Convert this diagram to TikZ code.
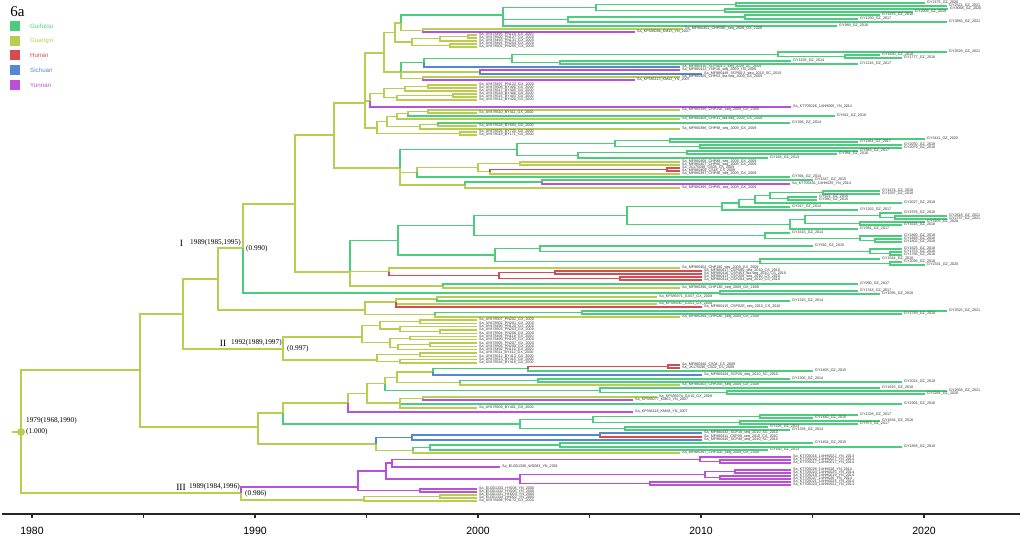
\documentclass[tikz,border=0pt]{standalone}
\usepackage{fontspec}
\setmainfont{Liberation Serif}
\newfontfamily\arialf{Liberation Sans}
\definecolor{GZ}{RGB}{75,205,125}
\definecolor{GX}{RGB}{185,205,80}
\definecolor{HN}{RGB}{215,75,80}
\definecolor{SC}{RGB}{85,135,215}
\definecolor{YN}{RGB}{185,80,215}
\tikzset{
  lab/.style={anchor=west, inner sep=0pt, xshift=2pt, text=black!80, font=\arialf\fontsize{3.7}{4}\selectfont},
  nl/.style={anchor=west, inner sep=0pt, font=\fontsize{7.3}{8}\selectfont},
  rn/.style={inner sep=0pt, font=\fontsize{9.5}{10}\selectfont},
  leg/.style={anchor=west, inner sep=0pt, font=\arialf\fontsize{6.2}{7}\selectfont},
  axl/.style={inner sep=0pt, font=\arialf\fontsize{10.5}{12}\selectfont},
  axisline/.style={line width=1.3pt, black!85},
}
\newcounter{lc}
\newcommand\bb[5]{\draw[#1,line width=1.8pt] (#2,#3) |- (#4,#5);}
\newcommand\br[5]{\draw[#1,line width=1.3pt] (#2,#3) |- (#4,#5);}
\newcommand\lf[6]{\draw[#1,line width=1.3pt] (#2,#3) |- (#4,#5);\stepcounter{lc}\node[lab] (L\arabic{lc}) at (#4,#5) {\detokenize{#6}};}
\begin{document}
\begin{tikzpicture}[x=1pt,y=-1pt]
\useasboundingbox (0,0) rectangle (1024,536);
% ---------- backbone ----------
\draw[GX,line width=1.8pt] (12,432) -- (21,432);
\bb{GX}{21}{432}{140}{370}
\bb{GX}{21}{432}{241}{493}
\bb{GX}{140}{370}{183}{314}
\bb{GX}{140}{370}{258}{427}
\bb{GX}{183}{314}{218}{279}
\bb{GX}{183}{314}{283}{349}
\bb{GX}{218}{279}{243}{248}
\bb{GX}{218}{279}{365}{310}
\bb{GX}{243}{248}{295}{204}
\br{GZ}{243}{248}{720}{293}
% ---------- upper clade ----------
\br{GX}{295}{204}{334}{135}
\br{GX}{295}{204}{350}{272}
\br{GX}{334}{135}{365}{103}
\br{GX}{334}{135}{400}{168}
\br{GX}{365}{103}{384}{53}
\br{GX}{365}{103}{370}{101}
\br{GX}{365}{103}{377}{128}
\br{GX}{384}{53}{395}{32.5}
\br{GX}{384}{53}{401}{72}
\br{GX}{395}{32.5}{401}{23}
\br{GX}{395}{32.5}{412}{42}
\br{GZ}{401}{23}{503}{15}
\br{GX}{401}{23}{423}{30.5}
\br{GZ}{503}{15}{596}{7.5}
\br{GZ}{503}{15}{568}{19.5}
\lf{GZ}{503}{15}{837}{26}{GY989_GZ_2016}
\br{GZ}{596}{7.5}{736}{4.5}
\br{GZ}{596}{7.5}{725}{10.5}
\lf{GZ}{736}{4.5}{925}{3}{GY2175_GZ_2020}
\lf{GZ}{736}{4.5}{947}{6}{GY2521_GZ_2021}
\lf{GZ}{725}{10.5}{948}{9}{GY3068_GZ_2020}
\lf{GZ}{725}{10.5}{913}{12}{GY2009_GZ_2019}
\br{GZ}{568}{19.5}{745}{17}
\lf{GZ}{568}{19.5}{947}{22}{GY3883_GZ_2021}
\lf{GZ}{745}{17}{880}{15}{GY1876_GZ_2018}
\lf{GZ}{745}{17}{858}{19}{GY1250_GZ_2017}
\lf{GX}{423}{30.5}{683}{29}{Sa_MF980401_CHP09E_seq_2009_GX_2009}
\lf{YN}{423}{30.5}{635}{32}{Sa_KF586086_KM15_YN_2007}
\br{GX}{412}{42}{440}{38.75}
\br{GX}{412}{42}{450}{45.5}
\br{GX}{440}{38.75}{468}{36.5}
\lf{GX}{440}{38.75}{477}{41}{Sa_AY878493_PN131_GX_2000}
\lf{GX}{468}{36.5}{477}{35}{Sa_AY878495_PN119_GX_2000}
\lf{GX}{468}{36.5}{477}{38}{Sa_AY878500_PN127_GX_2000}
\lf{GX}{450}{45.5}{477}{44}{Sa_AY878491_PN204_GX_2000}
\lf{GX}{450}{45.5}{477}{47}{Sa_AY878501_PN205_GX_2000}
\br{GZ}{401}{72}{424}{62.7}
\br{GX}{401}{72}{480}{72}
\br{GX}{401}{72}{423}{78.5}
\br{GZ}{424}{62.7}{512}{58.4}
\lf{SC}{424}{62.7}{680}{67}{Sa_MF980410_SCP469-2_seq_2009_SC_2009}
\br{GZ}{512}{58.4}{778}{54.25}
\br{GZ}{512}{58.4}{560}{62.5}
\lf{GZ}{778}{54.25}{947}{52}{GY3529_GZ_2021}
\br{GZ}{778}{54.25}{845}{56.5}
\lf{GZ}{845}{56.5}{880}{55}{GY1630_GZ_2018}
\lf{GZ}{845}{56.5}{902}{58}{GY1777_GZ_2018}
\lf{GZ}{560}{62.5}{791}{61}{GY1435_GZ_2014}
\lf{GZ}{560}{62.5}{858}{64}{GY1216_GZ_2017}
\lf{YN}{480}{72}{680}{70}{Sa_MF980412_YNP16_seq_2009_YN_2009}
\lf{SC}{480}{72}{702}{74}{Sa_MF980448_SCP60-2_seq_2010_SC_2010}
\lf{GX}{423}{78.5}{680}{77}{Sa_MF980405_CHP02_lba.seq_2009_GX_2009}
\lf{YN}{423}{78.5}{635}{80}{Sa_KF586113_KM42_YN_2007}
\br{GX}{370}{101}{384}{93.25}
\lf{YN}{370}{101}{791}{107}{Sa_KT705026_14HH005_YN_2014}
\br{GX}{384}{93.25}{405}{88.75}
\br{GX}{384}{93.25}{397}{97.75}
\br{GX}{405}{88.75}{428}{86.5}
\lf{GX}{405}{88.75}{477}{91}{Sa_AY878517_BY405_GX_2000}
\lf{GX}{428}{86.5}{477}{85}{Sa_AY878497_PN122_GX_2000}
\lf{GX}{428}{86.5}{477}{88}{Sa_AY878508_BY400_GX_2000}
\br{GX}{397}{97.75}{453}{95.5}
\lf{GX}{397}{97.75}{477}{100}{Sa_AY878514_BY420_GX_2000}
\lf{GX}{453}{95.5}{477}{94}{Sa_AY878518_BY406_GX_2000}
\lf{GX}{453}{95.5}{477}{97}{Sa_AY878515_BY403_GX_2000}
\br{GX}{377}{128}{387}{121.6}
\br{GX}{377}{128}{460}{133.5}
\br{GX}{387}{121.6}{397}{116.4}
\br{GX}{387}{121.6}{420}{126.75}
\br{GX}{397}{116.4}{408}{113.75}
\lf{GX}{397}{116.4}{680}{119}{Sa_MF980404_CHP31_lba.seq_2009_GX_2009}
\br{GX}{408}{113.75}{428}{111.5}
\lf{GZ}{408}{113.75}{835}{116}{GY641_GZ_2016}
\lf{GX}{428}{111.5}{680}{110}{Sa_MF980399_CHP15E_seq_2009_GX_2009}
\lf{GX}{428}{111.5}{477}{113}{Sa_AY878510_BY411_GX_2000}
\br{GX}{420}{126.75}{438}{124.5}
\lf{GX}{420}{126.75}{680}{129}{Sa_MF980398_CHP98_seq_2009_GX_2009}
\lf{GZ}{438}{124.5}{790}{123}{GY396_GZ_2014}
\lf{GX}{438}{124.5}{477}{126}{Sa_AY878528_BY694_GX_2000}
\lf{GX}{460}{133.5}{477}{132}{Sa_AY878526_BY720_GX_2000}
\lf{GX}{460}{133.5}{477}{135}{Sa_AY878519_BY171_GX_2000}
\br{GZ}{400}{168}{517}{149.4}
\br{GX}{400}{168}{417}{172.3}
\br{GX}{400}{168}{465}{185}
\br{GZ}{517}{149.4}{615}{143.5}
\br{GZ}{517}{149.4}{578}{155.25}
\br{GZ}{615}{143.5}{670}{140.5}
\br{GZ}{615}{143.5}{700}{146.5}
\lf{GZ}{670}{140.5}{925}{139}{GY3411_GZ_2020}
\lf{GZ}{670}{140.5}{858}{142}{GY1164_GZ_2017}
\lf{GZ}{700}{146.5}{902}{145}{GY2050_GZ_2018}
\lf{GZ}{700}{146.5}{902}{148}{GY2079_GZ_2018}
\br{GZ}{578}{155.25}{687}{152.5}
\lf{GZ}{578}{155.25}{768}{158}{GY168_GZ_2013}
\lf{GZ}{687}{152.5}{858}{151}{GY983_GZ_2017}
\lf{GZ}{687}{152.5}{837}{154}{GY984_GZ_2016}
\br{GX}{417}{172.3}{478}{167.6}
\lf{GZ}{417}{172.3}{790}{177}{GY394_GZ_2014}
\br{GX}{478}{167.6}{520}{163.5}
\br{GX}{478}{167.6}{490}{171.75}
\lf{GX}{520}{163.5}{680}{162}{Sa_MF980408_CHP88_seq_2009_GX_2009}
\lf{GX}{520}{163.5}{680}{165}{Sa_MF980407_CHP86_seq_2009_GX_2009}
\br{HN}{490}{171.75}{667}{169.5}
\lf{GX}{490}{171.75}{680}{174}{Sa_MF980397_CHP46_seq_2009_GX_2009}
\lf{HN}{667}{169.5}{680}{168}{Sa_JX175098_CS08_CS_2009}
\lf{HN}{667}{169.5}{680}{171}{Sa_MF980409_CS48_CS_2009}
\br{GZ}{465}{185}{542}{182}
\lf{GX}{465}{185}{680}{188}{Sa_MF980395_CHP95_seq_2009_GX_2009}
\lf{GZ}{542}{182}{813}{180}{GY1547_GZ_2015}
\lf{YN}{542}{182}{790}{184}{Sa_KT705401_14HH025_YN_2014}
% ---------- clade under node 350 ----------
\br{GZ}{350}{272}{398}{240.25}
\br{GX}{350}{272}{389}{271.75}
\br{GX}{350}{272}{443}{286}
\br{GZ}{398}{240.25}{474}{225.5}
\br{GZ}{398}{240.25}{495}{255}
\br{GZ}{474}{225.5}{627}{215.4}
\br{GZ}{474}{225.5}{765}{235.6}
\br{GZ}{627}{215.4}{722}{206.6}
\br{GZ}{627}{215.4}{790}{224.2}
\br{GZ}{722}{206.6}{739}{203.1}
\lf{GZ}{722}{206.6}{858}{210}{GY1262_GZ_2017}
\br{GZ}{739}{203.1}{755}{199.25}
\lf{GZ}{739}{203.1}{790}{207}{GY317_GZ_2014}
\br{GZ}{755}{199.25}{770}{195.5}
\lf{GZ}{755}{199.25}{902}{203}{GY2027_GZ_2018}
\br{GZ}{770}{195.5}{823}{192.5}
\br{GZ}{770}{195.5}{788}{198.5}
\lf{GZ}{823}{192.5}{880}{191}{GY1474_GZ_2018}
\lf{GZ}{823}{192.5}{880}{194}{GY1597_GZ_2018}
\lf{GZ}{788}{198.5}{817}{197}{GY621_GZ_2015}
\lf{GZ}{788}{198.5}{817}{200}{GY980_GZ_2015}
\br{GZ}{790}{224.2}{805}{219.4}
\lf{GZ}{790}{224.2}{858}{229}{GY981_GZ_2017}
\br{GZ}{805}{219.4}{880}{215.25}
\br{GZ}{805}{219.4}{860}{223.5}
\lf{GZ}{880}{215.25}{902}{213}{GY1978_GZ_2018}
\br{GZ}{880}{215.25}{895}{217.5}
\lf{GZ}{895}{217.5}{947}{216}{GY2618_GZ_2021}
\lf{GZ}{895}{217.5}{947}{219}{GY2737_GZ_2021}
\lf{GZ}{860}{223.5}{925}{222}{GY3105_GZ_2020}
\lf{GZ}{860}{223.5}{902}{225}{GY1616_GZ_2018}
\lf{GZ}{765}{235.6}{790}{233}{GY1515_GZ_2014}
\br{GZ}{765}{235.6}{860}{238.25}
\lf{GZ}{860}{238.25}{902}{236}{GY1860_GZ_2018}
\br{GZ}{860}{238.25}{875}{240.5}
\lf{GZ}{875}{240.5}{902}{239}{GY1868_GZ_2018}
\lf{GZ}{875}{240.5}{902}{242}{GY1802_GZ_2018}
\br{GZ}{495}{255}{540}{248.6}
\br{GZ}{495}{255}{760}{261.25}
\lf{GZ}{540}{248.6}{813}{246}{GY592_GZ_2015}
\br{GZ}{540}{248.6}{870}{251.25}
\lf{GZ}{870}{251.25}{902}{249}{GY1625_GZ_2018}
\br{GZ}{870}{251.25}{890}{253.5}
\lf{GZ}{890}{253.5}{902}{252}{GY1763_GZ_2018}
\lf{GZ}{890}{253.5}{902}{255}{GY1766_GZ_2018}
\lf{GZ}{760}{261.25}{880}{259}{GY1544_GZ_2018}
\br{GZ}{760}{261.25}{890}{263.5}
\lf{GZ}{890}{263.5}{902}{262}{GY2096_GZ_2018}
\lf{GZ}{890}{263.5}{925}{265}{GY2331_GZ_2020}
\lf{GX}{389}{271.75}{680}{268}{Sa_MF980402_CHP180_seq_2009_GX_2009}
\br{HN}{389}{271.75}{499}{275.5}
\br{HN}{499}{275.5}{555}{272.5}
\br{HN}{499}{275.5}{620}{278.5}
\lf{HN}{555}{272.5}{702}{271}{Sa_MF980417_CSP590_seq_2010_CS_2010}
\lf{HN}{555}{272.5}{702}{274}{Sa_MF980416_CSP453_lba.seq_2010_CS_2010}
\lf{HN}{620}{278.5}{702}{277}{Sa_MF980413_CSP208_seq_2010_CS_2010}
\lf{HN}{620}{278.5}{702}{280}{Sa_MF980414_CSP284_seq_2010_CS_2010}
\lf{GZ}{443}{286}{858}{284}{GY990_GZ_2017}
\lf{GX}{443}{286}{680}{288}{Sa_MF980396_CHP13E_seq_2009_GX_2009}
\lf{GZ}{720}{293}{858}{291}{GY1318_GZ_2017}
\lf{GZ}{720}{293}{880}{294}{GY1595_GZ_2018}
% ---------- node 365 (lower branch of 218) ----------
\br{GX}{365}{310}{396}{302}
\br{GX}{365}{310}{435}{314.75}
\br{GX}{396}{302}{437}{299}
\lf{GX}{396}{302}{657}{304}{Sa_KF585967_GX01_GX_2008}
\lf{HN}{396}{302}{702}{307}{Sa_MF980415_CSP02E_seq_2010_CS_2010}
\lf{GX}{437}{299}{657}{297}{Sa_KF585971_GX07_GX_2008}
\lf{GZ}{437}{299}{790}{301}{GY1315_GZ_2014}
\br{GZ}{435}{314.75}{582}{312.5}
\lf{GX}{435}{314.75}{680}{317}{Sa_MF980394_CHP03E_seq_2009_GX_2009}
\lf{GZ}{582}{312.5}{947}{311}{GY3525_GZ_2021}
\lf{GZ}{582}{312.5}{902}{314}{GY1749_GZ_2019}
% ---------- clade II ----------
\br{GX}{283}{349}{362}{337}
\br{GX}{283}{349}{377}{360}
\br{GX}{362}{337}{380}{325.4}
\br{GX}{362}{337}{390}{342.7}
\br{GX}{380}{325.4}{420}{321.7}
\br{GX}{380}{325.4}{400}{329.1}
\lf{GX}{420}{321.7}{477}{320}{Sa_AY878507_PN202_GX_2000}
\lf{GX}{420}{321.7}{477}{323.3}{Sa_AY878502_PN201_GX_2000}
\lf{GX}{400}{329.1}{477}{326.6}{Sa_AY878496_PN120_GX_2000}
\br{GX}{400}{329.1}{440}{331.6}
\lf{GX}{440}{331.6}{477}{329.9}{Sa_AY878503_PN203_GX_2000}
\lf{GX}{440}{331.6}{477}{333.2}{Sa_AY878504_PN206_GX_2000}
\br{GX}{390}{342.7}{410}{338.2}
\br{GX}{390}{342.7}{398}{347.2}
\lf{GX}{410}{338.2}{477}{336.5}{Sa_AY878494_PN118_GX_2000}
\lf{GX}{410}{338.2}{477}{339.8}{Sa_AY878499_PN125_GX_2000}
\br{GX}{398}{347.2}{430}{344.8}
\lf{GX}{398}{347.2}{477}{349.7}{Sa_AY878492_PN110_GX_2000}
\lf{GX}{430}{344.8}{477}{343.1}{Sa_AY878505_PN207_GX_2000}
\lf{GX}{430}{344.8}{477}{346.4}{Sa_AY878506_PN208_GX_2000}
\br{GX}{377}{360}{420}{354.7}
\br{GX}{377}{360}{400}{361.3}
\lf{GX}{420}{354.7}{477}{353}{Sa_AY878511_BY412_GX_2000}
\lf{GX}{420}{354.7}{477}{356.3}{Sa_AY878512_BY413_GX_2000}
\lf{GX}{400}{361.3}{477}{359.6}{Sa_AY878513_BY415_GX_2000}
\lf{GX}{400}{361.3}{477}{362.9}{Sa_AY878516_BY416_GX_2000}
% ---------- clade C ----------
\br{GX}{258}{427}{283}{413}
\br{GX}{258}{427}{376}{444}
\br{GX}{283}{413}{348}{403}
\br{GZ}{283}{413}{520}{424}
\br{GX}{348}{403}{367}{393.4}
\lf{YN}{348}{403}{633}{412}{Sa_KF586118_KM48_YN_2007}
\br{GX}{367}{393.4}{385}{383.8}
\br{GX}{367}{393.4}{400}{403}
\br{GX}{385}{383.8}{397}{377.3}
\br{GZ}{385}{383.8}{600}{390.25}
\br{GX}{397}{377.3}{433}{371.9}
\br{GX}{397}{377.3}{460}{382.75}
\br{GZ}{433}{371.9}{528}{368.75}
\lf{SC}{433}{371.9}{702}{375}{Sa_MF980444_SCP26_seq_2010_SC_2010}
\br{HN}{528}{368.75}{668}{366.5}
\lf{GZ}{528}{368.75}{813}{371}{GY1405_GZ_2015}
\lf{HN}{668}{366.5}{680}{365}{Sa_MF980440_CS04_CS_2009}
\lf{HN}{668}{366.5}{680}{368}{Sa_JX175096_CS02_CS_2009}
\br{GZ}{460}{382.75}{538}{380.5}
\lf{GX}{460}{382.75}{680}{385}{Sa_MF980403_CHP25E_seq_2009_GX_2009}
\lf{GZ}{538}{380.5}{790}{379}{GY1306_GZ_2014}
\lf{GZ}{538}{380.5}{902}{382}{GY2014_GZ_2019}
\lf{GZ}{600}{390.25}{880}{388}{GY1615_GZ_2018}
\br{GZ}{600}{390.25}{727}{392.5}
\lf{GZ}{727}{392.5}{947}{391}{GY2658_GZ_2021}
\lf{GZ}{727}{392.5}{925}{394}{GY2281_GZ_2020}
\br{GX}{400}{403}{423}{398.5}
\lf{GZ}{400}{403}{902}{404}{GY1904_GZ_2018}
\lf{GX}{400}{403}{477}{408}{Sa_AY878509_BY401_GX_2000}
\lf{GX}{423}{398.5}{657}{397}{Sa_KF585974_GX10_GX_2008}
\lf{YN}{423}{398.5}{633}{400}{Sa_KF586077_KM03_YN_2007}
\br{GZ}{520}{424}{593}{419.5}
\br{GZ}{520}{424}{625}{428.5}
\br{GZ}{593}{419.5}{760}{416.5}
\br{GZ}{593}{419.5}{740}{422.5}
\lf{GZ}{760}{416.5}{858}{415}{GY1328_GZ_2017}
\lf{GZ}{760}{416.5}{813}{418}{GY1440_GZ_2015}
\lf{GZ}{740}{422.5}{880}{421}{GY1634_GZ_2018}
\lf{GZ}{740}{422.5}{858}{424}{GY973_GZ_2017}
\lf{GZ}{625}{428.5}{768}{427}{GY226_GZ_2013}
\lf{GZ}{625}{428.5}{790}{430}{GY1258_GZ_2014}
\br{SC}{376}{444}{412}{437.5}
\br{GX}{376}{444}{413}{450.25}
\br{SC}{412}{437.5}{600}{435}
\lf{SC}{412}{437.5}{702}{440}{Sa_MF980445_SCP48_seq_2010_SC_2010}
\lf{SC}{600}{435}{702}{433}{Sa_MF980432_SCP18_seq_2010_SC_2010}
\lf{HN}{600}{435}{702}{437}{Sa_MF980411_CSP09_seq_2010_CS_2010}
\br{GZ}{413}{450.25}{430}{447.5}
\lf{GX}{413}{450.25}{680}{453}{Sa_MF980397_CHP10E_seq_2009_GX_2009}
\br{GZ}{430}{447.5}{560}{445}
\lf{GZ}{430}{447.5}{768}{450}{GY150_GZ_2013}
\lf{GZ}{560}{445}{813}{443}{GY1454_GZ_2015}
\lf{GZ}{560}{445}{902}{447}{GY1858_GZ_2018}
% ---------- clade III ----------
\br{YN}{241}{493}{358}{487}
\br{GX}{241}{493}{364}{500}
\br{YN}{358}{487}{386}{471}
\br{YN}{358}{487}{420}{490.5}
\br{YN}{386}{471}{392}{463.1}
\br{YN}{386}{471}{520}{479}
\br{YN}{392}{463.1}{700}{459.25}
\lf{YN}{392}{463.1}{500}{467}{Sa_EU301336_WS083_YN_2001}
\lf{YN}{700}{459.25}{791}{457}{Sa_KT705016_14HH0022_YN_2014}
\br{YN}{700}{459.25}{720}{461.5}
\lf{YN}{720}{461.5}{791}{460}{Sa_KT705022_14HH0027_YN_2014}
\lf{YN}{720}{461.5}{791}{463}{Sa_KT705017_14HH0017_YN_2014}
\br{YN}{520}{479}{705}{474.5}
\br{YN}{520}{479}{650}{483.5}
\br{YN}{705}{474.5}{735}{471.5}
\br{YN}{705}{474.5}{720}{477.5}
\lf{YN}{735}{471.5}{791}{470}{Sa_KT705028_14HH028_YN_2014}
\lf{YN}{735}{471.5}{791}{473}{Sa_KT705024_14HH0025_YN_2014}
\lf{YN}{720}{477.5}{791}{476}{Sa_KT705019_14HH0019_YN_2014}
\lf{YN}{720}{477.5}{791}{479}{Sa_KT705027_14HH026_YN_2014}
\lf{YN}{650}{483.5}{791}{482}{Sa_KT705021_14HH0024_YN_2014}
\lf{YN}{650}{483.5}{791}{485}{Sa_KT705023_14HH0021_YN_2014}
\lf{YN}{420}{490.5}{477}{489}{Sa_EU301333_HY008_YN_2000}
\lf{YN}{420}{490.5}{477}{492}{Sa_EU301332_HY006_YN_2000}
\br{GX}{364}{500}{440}{496.5}
\lf{GX}{364}{500}{477}{501}{Sa_AY878498_PN172_GX_2000}
\lf{GX}{440}{496.5}{477}{495}{Sa_EU301331_HH004_YN_2000}
\lf{GX}{440}{496.5}{477}{498}{Sa_EU301334_HH002_YN_2000}
% ---------- root marker and node labels ----------
\node[circle, fill=GX, minimum size=8pt, inner sep=0pt] (root) at (21,432) {};
\node[nl] (rootyr) at (26,421) {1979(1968,1990)};
\node[nl] (rootpp) at (26,432) {(1.000)};
\node[rn] (rI) at (181.5,243) {I};
\node[nl] (yI) at (190,243) {1989(1985,1995)};
\node[nl] (pI) at (246,249) {(0.990)};
\node[rn] (rII) at (223,343) {II};
\node[nl] (yII) at (231,343) {1992(1989,1997)};
\node[nl] (pII) at (287,349) {(0.997)};
\node[rn] (rIII) at (181,487) {III};
\node[nl] (yIII) at (189,487) {1989(1984,1996)};
\node[nl] (pIII) at (245,494) {(0.986)};
% ---------- legend ----------
\node[inner sep=0pt, font=\fontsize{15}{15}\selectfont] (title) at (17.5,12) {6a};
\fill[GZ] (10,21) rectangle (20,31); \node[leg, text=GZ] (lgz) at (30,26) {Guihzou};
\fill[GX] (10,36) rectangle (20,46); \node[leg, text=GX] (lgx) at (30,41) {Guangxi};
\fill[HN] (10,50) rectangle (20,60); \node[leg, text=HN] (lhn) at (30,55) {Hunan};
\fill[SC] (10,65) rectangle (20,75); \node[leg, text=SC] (lsc) at (30,70) {Sichuan};
\fill[YN] (10,80) rectangle (20,90); \node[leg, text=YN] (lyn) at (30,85) {Yunnan};
% ---------- time axis ----------
\draw[axisline] (2,514) -- (1020,514);
\foreach \t in {0,...,8}{\draw[axisline] ({32+\t*111.5},514) -- ({32+\t*111.5},518);}
\node[axl] (a1980) at (32,531) {1980};
\node[axl] (a1990) at (255,531) {1990};
\node[axl] (a2000) at (478,531) {2000};
\node[axl] (a2010) at (701,531) {2010};
\node[axl] (a2020) at (924,531) {2020};
\end{tikzpicture}
\end{document}
